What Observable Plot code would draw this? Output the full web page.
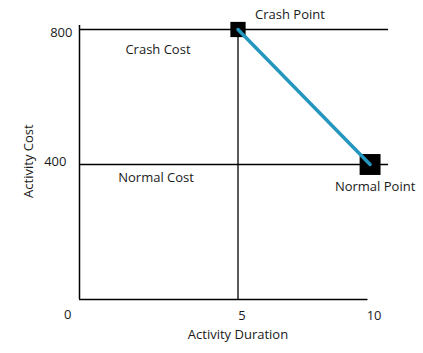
<!DOCTYPE html>
<html>
<head>
<meta charset="utf-8">
<script src="https://cdn.jsdelivr.net/npm/d3@7"></script>
<script src="https://cdn.jsdelivr.net/npm/@observablehq/plot@0.6"></script>
<style>
  html, body { margin: 0; padding: 0; background: #fff; }
  svg { display: block; }
</style>
</head>
<body>
<div id="chart"></div>
<script>
// Data
const durations = [5, 10];          // crash, normal duration
const costs = [800, 400];           // crash, normal cost
const pointNames = ["Crash Point", "Normal Point"];
const costLevels = [800, 400];
const costLabels = ["Crash Cost", "Normal Cost"];
const yTicks = [800, 400];
const xTicks = [5, 10];
const xMin = -1, xMax = 10.7, yTop = 812;

const points = durations.map((d, i) => ({x: d, y: costs[i], name: pointNames[i]}));
const font = "'Open Sans', sans-serif";
const ink = "#1a1a1a";

const chart = Plot.plot({
  width: 423,
  height: 353,
  marginLeft: 79,
  marginRight: 27,
  marginTop: 29,
  marginBottom: 54,
  x: {domain: [-1, 11], axis: null},
  y: {domain: [0, 800], axis: null},
  style: {fontFamily: font, fontSize: "13px", color: ink, background: "#fff"},
  marks: [
    // axes
    Plot.ruleX([xMin], {y1: 0, y2: yTop, stroke: "#000", strokeWidth: 1.5}),
    Plot.ruleY([0], {x1: xMin, x2: 9.92, stroke: "#000", strokeWidth: 1.5}),
    // reference lines
    Plot.ruleY(costLevels, {x1: xMin, x2: xMax, stroke: "#000", strokeWidth: 1.3}),
    Plot.ruleX([durations[0]], {y1: 0, y2: costs[0], stroke: "#000", strokeWidth: 1.3}),
    // squares
    Plot.dot([points[0]], {x: "x", y: "y", symbol: "square", r: 8.6, fill: "#000", stroke: "none"}),
    Plot.dot([points[1]], {x: "x", y: "y", symbol: "square", r: 11.8, fill: "#000", stroke: "none"}),
    // connecting line
    Plot.line(points, {x: "x", y: "y", stroke: "#2596be", strokeWidth: 3.5}),
    // y tick labels
    Plot.text([yTicks[0]], {x: xMin, y: d => d, text: d => String(d), textAnchor: "end", dx: -7, dy: 3, fill: ink}),
    Plot.text([yTicks[1]], {x: xMin, y: d => d, text: d => String(d), textAnchor: "end", dx: -13, dy: -3, fill: ink}),
    Plot.text(["0"], {x: xMin, y: 0, text: d => d, textAnchor: "end", dx: -8, dy: 15, fill: ink}),
    // x tick labels
    Plot.text(xTicks, {x: d => d, y: 0, text: d => String(d), dx: 4, dy: 16, fill: ink}),
    // region labels
    Plot.text([costLabels[0]], {x: 1.97, y: costLevels[0], text: d => d, dy: 20, fill: ink}),
    Plot.text([costLabels[1]], {x: 1.9, y: costLevels[1], text: d => d, dy: 13, fill: ink}),
    // point labels
    Plot.text([pointNames[0]], {x: durations[0], y: costs[0], text: d => d, dx: 52, dy: -15, fill: ink}),
    Plot.text([pointNames[1]], {x: durations[1], y: costs[1], text: d => d, dx: 5, dy: 22, fill: ink}),
    // axis titles
    Plot.text(["Activity Duration"], {x: 5, y: 0, text: d => d, dy: 35, fill: ink}),
    Plot.text(["Activity Cost"], {x: xMin, y: 410, text: d => d, rotate: -90, dx: -51, fill: ink})
  ]
});
document.getElementById("chart").appendChild(chart);
</script>
</body>
</html>
